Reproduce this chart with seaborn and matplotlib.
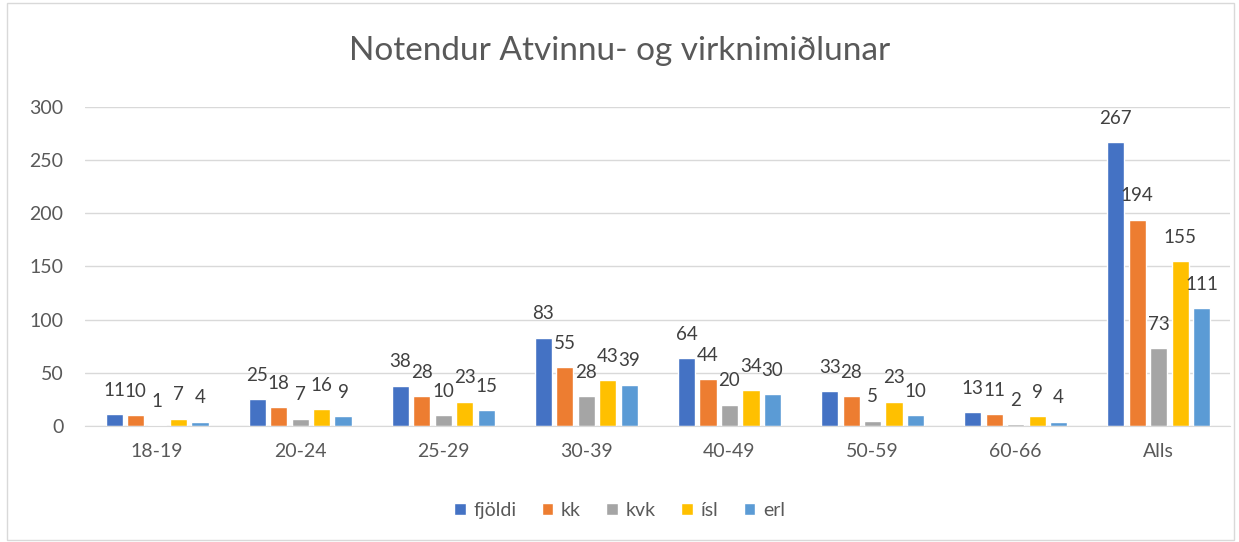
import pandas as pd
import matplotlib.pyplot as plt
import seaborn as sns
from matplotlib.patches import Rectangle

# ============================================================
# DATA
# ============================================================
aldur = ['18-19', '20-24', '25-29', '30-39', '40-49', '50-59', '60-66', 'Alls']
fjoldi = [11, 25, 38, 83, 64, 33, 13, 267]
kk = [10, 18, 28, 55, 44, 28, 11, 194]
kvk = [1, 7, 10, 28, 20, 5, 2, 73]
isl = [7, 16, 23, 43, 34, 23, 9, 155]
erl = [4, 9, 15, 39, 30, 10, 4, 111]

series_names = ['fjöldi', 'kk', 'kvk', 'ísl', 'erl']
series_vals = [fjoldi, kk, kvk, isl, erl]
colors = ['#4472C4', '#ED7D31', '#A5A5A5', '#FFC000', '#5B9BD5']

rows = []
for name, vals in zip(series_names, series_vals):
    for a, v in zip(aldur, vals):
        rows.append({'aldur': a, 'hópur': name, 'gildi': v})
df = pd.DataFrame(rows)

# ============================================================
# PLOT
# ============================================================
sns.set_style('white')
plt.rcParams['font.family'] = ['Lato', 'DejaVu Sans']

fig = plt.figure(figsize=(12.39, 5.42), dpi=100)
ax = fig.add_axes([0.069, 0.214, 0.924, 0.589])

sns.barplot(data=df, x='aldur', y='gildi', hue='hópur', order=aldur,
            hue_order=series_names, palette=colors, width=0.75, gap=0.2,
            saturation=1, ax=ax, legend=True)

for cont in ax.containers:
    ax.bar_label(cont, fmt='%d', padding=11, fontsize=13.5, color='#404040')

ax.set_ylim(0, 300)
ax.set_yticks(range(0, 301, 50))
ax.set_xlim(-0.5, 7.5)
ax.yaxis.grid(True, color='#D9D9D9', linewidth=1)
ax.set_axisbelow(True)
for s in ['top', 'right', 'left']:
    ax.spines[s].set_visible(False)
ax.spines['bottom'].set_color('#D9D9D9')
ax.tick_params(axis='both', length=0, labelsize=14, labelcolor='#595959')
ax.tick_params(axis='x', pad=12)
ax.tick_params(axis='y', pad=16)
ax.set_xlabel('')
ax.set_ylabel('')

fig.text(0.5, 0.905, 'Notendur Atvinnu- og virknimiðlunar', ha='center', va='center',
         fontsize=24, color='#595959')

handles, labels = ax.get_legend_handles_labels()
ax.legend(handles, labels, loc='center', bbox_to_anchor=(0.5, 0.058),
          bbox_transform=fig.transFigure, ncol=5, frameon=False, fontsize=14,
          handlelength=0.6, handleheight=0.6, handletextpad=0.4, columnspacing=1.3,
          labelcolor='#595959')

fig.patches.append(Rectangle((0.006, 0.004), 0.99, 0.99, transform=fig.transFigure,
                             fill=False, edgecolor='#D9D9D9', linewidth=1))

plt.savefig('out.png', dpi=100)
plt.close()
